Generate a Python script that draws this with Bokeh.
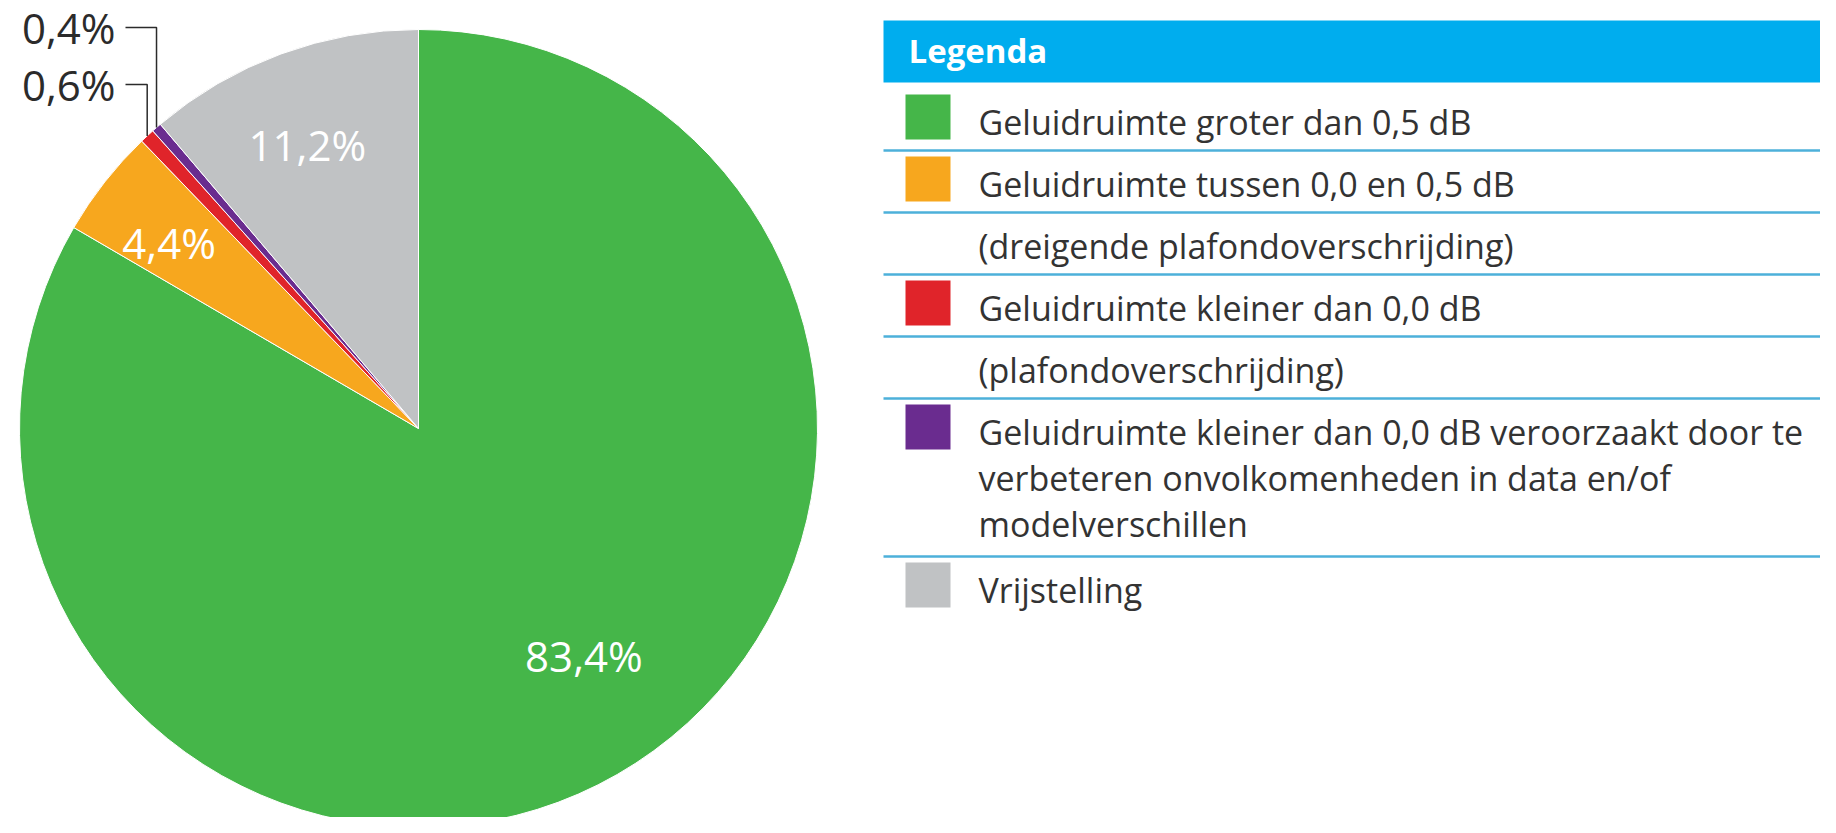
import numpy as np
from bokeh.plotting import figure
from bokeh.models import Range1d, ColumnDataSource
from bokeh.core.properties import value
from bokeh.embed import file_html
from bokeh.resources import INLINE

# ---------------- data ----------------
categories = [
    "Geluidruimte groter dan 0,5 dB",
    "Geluidruimte tussen 0,0 en 0,5 dB",
    "Geluidruimte kleiner dan 0,0 dB",
    "Geluidruimte kleiner dan 0,0 dB veroorzaakt door te verbeteren onvolkomenheden in data en/of modelverschillen",
    "Vrijstelling",
]
shares = [83.4, 4.4, 0.6, 0.4, 11.2]
colors = ["#45b649", "#f7a71e", "#e0242a", "#6a2c8f", "#c0c2c4"]
pct_labels = [f"{v:.1f}".replace(".", ",") + "%" for v in shares]

legend_title = "Legenda"
legend_rows = [
    (0, ["Geluidruimte groter dan 0,5 dB"]),
    (1, ["Geluidruimte tussen 0,0 en 0,5 dB"]),
    (None, ["(dreigende plafondoverschrijding)"]),
    (2, ["Geluidruimte kleiner dan 0,0 dB"]),
    (None, ["(plafondoverschrijding)"]),
    (3, ["Geluidruimte kleiner dan 0,0 dB veroorzaakt door te",
         "verbeteren onvolkomenheden in data en/of",
         "modelverschillen"]),
    (4, ["Vrijstelling"]),
]

# ---------------- layout (pixel coords, y downward -> negated) ----------------
W, H = 1820, 817
p = figure(width=W, height=H, x_range=Range1d(0, W), y_range=Range1d(-H, 0),
           output_backend="svg", toolbar_location=None, min_border=0)
p.axis.visible = False
p.grid.visible = False
p.outline_line_color = None
p.background_fill_color = "white"
p.border_fill_color = "white"

CX, CY, R = 418, -428, 399
cum = np.concatenate([[0.0], np.cumsum(shares)]) / 100.0
start = np.pi / 2 - 2 * np.pi * cum[1:]
end = np.pi / 2 - 2 * np.pi * cum[:-1]
mid = (start + end) / 2

src = ColumnDataSource(dict(start=start, end=end, color=colors, cat=categories))
p.wedge(x=CX, y=CY, radius=R, start_angle="start", end_angle="end", fill_color="color",
        line_color="white", line_width=1, source=src)

# inside labels
inside = {0: (0.704, np.radians(6.2)), 1: (0.78, np.radians(1.4)), 4: (0.765, np.radians(1.2))}
lx, ly, lt = [], [], []
for i, (k, off) in inside.items():
    a = mid[i] + off
    lx.append(CX + k * R * np.cos(a))
    ly.append(CY + k * R * np.sin(a))
    lt.append(pct_labels[i])
p.text(x=lx, y=ly, text=lt, text_color="white", text_font=value("Open Sans"),
       text_font_size=value("42px"), text_align="center", text_baseline="middle")

# outside labels with leader lines
outside = {3: -27, 2: -84}
for i, yl in outside.items():
    ex = CX + R * np.cos(mid[i])
    ey = CY + R * np.sin(mid[i])
    p.line(x=[ex, ex, 125], y=[ey, yl, yl], line_color="#2b2b2b", line_width=1.5)
    p.text(x=[115], y=[yl], text=[pct_labels[i]], text_color="#2b2b2b",
           text_font=value("Open Sans"), text_font_size=value("42px"),
           text_align="right", text_baseline="middle")

# ---------------- legend table ----------------
LX0, LX1 = 883, W
p.quad(left=[LX0], right=[LX1], top=[-20], bottom=[-82], fill_color="#00adee", line_color=None)
p.text(x=[908], y=[-50], text=[legend_title], text_color="white",
       text_font=value("Open Sans"), text_font_style="bold",
       text_font_size=value("33px"), text_align="left", text_baseline="middle")

row_top = 88
tx, ty, tt = [], [], []
sq_l, sq_r, sq_t, sq_b, sq_c = [], [], [], [], []
line_ys = []
for n, (ci, lines) in enumerate(legend_rows):
    for j, txt in enumerate(lines):
        tx.append(978)
        ty.append(-(row_top + 33 + j * 46))
        tt.append(txt)
    if ci is not None:
        sq_l.append(905); sq_r.append(950)
        sq_t.append(-(row_top + 6)); sq_b.append(-(row_top + 51))
        sq_c.append(colors[ci])
    h = 62 + (len(lines) - 1) * 48
    bottom = 150 if n == 0 else row_top + h
    if n < len(legend_rows) - 1:
        line_ys.append(-bottom)
    row_top = bottom

p.quad(left=sq_l, right=sq_r, top=sq_t, bottom=sq_b, fill_color=sq_c, line_color=None)
for yy in line_ys:
    p.line(x=[LX0, LX1], y=[yy, yy], line_color="#4db0da", line_width=2.5)
p.text(x=tx, y=ty, text=tt, text_color="#333333",
       text_font=value("Open Sans"), text_font_size=value("34px"),
       text_align="left", text_baseline="middle")

open("out.html", "w").write(file_html(p, INLINE))
